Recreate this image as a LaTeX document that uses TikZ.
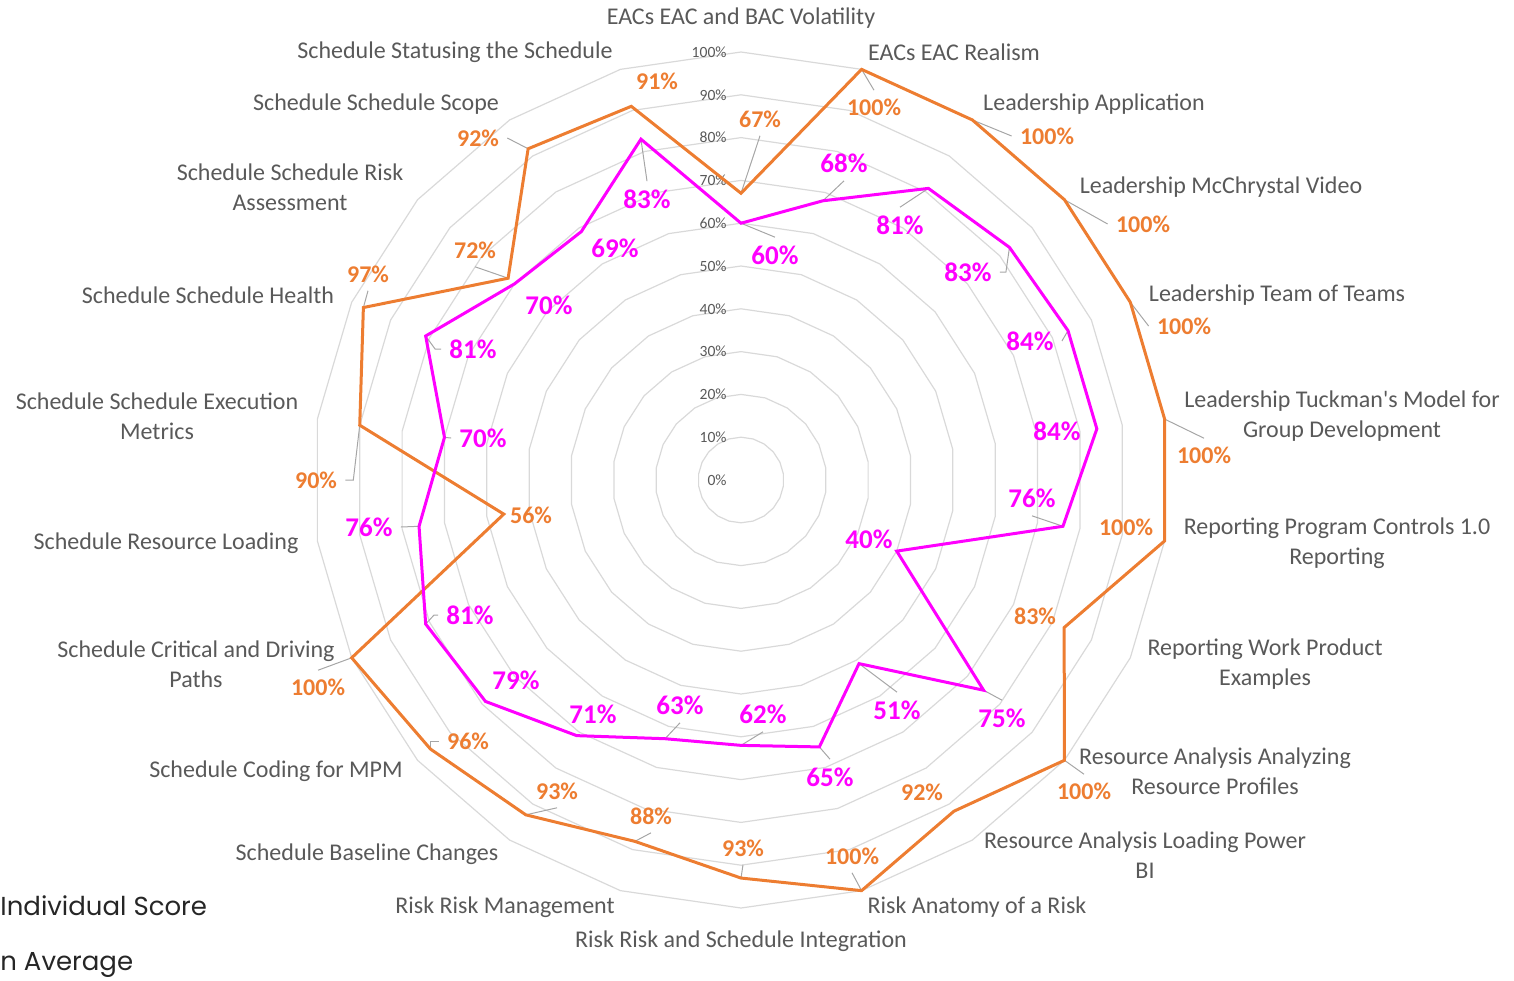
\documentclass[tikz,border=0pt]{standalone}
\usepackage{fontspec}
\setmainfont{Carlito}
\newfontfamily\legendfont{Poppins}
\usepackage{tikz}
\usetikzlibrary{calc,positioning}
\definecolor{scoreorange}{HTML}{ED7D31}
\definecolor{avgmagenta}{HTML}{FF00FF}
\definecolor{labelgray}{HTML}{595959}
\definecolor{gridgray}{HTML}{D9D9D9}
\definecolor{leadergray}{HTML}{A6A6A6}

\begin{document}
\begin{tikzpicture}[x=0.5pt,y=-0.5pt,
  ring/.style={draw=gridgray,line width=0.6pt},
  tick/.style={text=labelgray,font=\fontsize{7.8}{9}\selectfont,anchor=east,inner sep=0pt},
  category/.style={text=labelgray,font=\fontsize{12}{15}\selectfont,align=center,inner sep=0pt},
  scoreline/.style={draw=scoreorange,line width=1.5pt},
  avgline/.style={draw=avgmagenta,line width=1.5pt},
  scorelabel/.style={text=scoreorange,font=\bfseries\fontsize{12}{14}\selectfont,inner sep=4pt},
  avglabel/.style={text=avgmagenta,font=\bfseries\fontsize{13.5}{16}\selectfont,inner sep=4pt},
  leader/.style={draw=leadergray,line width=0.5pt},
  legendtext/.style={font=\legendfont\fontsize{13}{15}\selectfont,text=black!85,anchor=west,inner sep=0pt}]

\useasboundingbox (0,0) rectangle (1514,980);
\coordinate (ctr) at (741,480);

\foreach \r in {1,...,10}
  \draw[ring] ($(ctr)+(-90:{\r*42.8})$) \foreach \k in {1,...,21}{ -- ($(ctr)+({-90+\k*360/22}:{\r*42.8})$)} -- cycle;

\foreach \p [count=\r from 0] in {0,10,...,100}
  \node[tick] (tick\p) at ($(ctr)+(-14,{-\r*42.8})$) {\p\%};

\node[category] (cat0) at (741,18) {EACs EAC and BAC Volatility};
\node[category] (cat1) at (954,52) {EACs EAC Realism};
\node[category] (cat2) at (1094,104) {Leadership Application};
\node[category] (cat3) at (1221,187) {Leadership McChrystal Video};
\node[category] (cat4) at (1277,295) {Leadership Team of Teams};
\node[category] (cat5) at (1342,416) {Leadership Tuckman\textquotesingle s Model for\\Group Development};
\node[category] (cat6) at (1337,543) {Reporting Program Controls 1.0\\Reporting};
\node[category] (cat7) at (1265,664) {Reporting Work Product\\Examples};
\node[category] (cat8) at (1215,771) {Resource Analysis Analyzing\\Resource Profiles};
\node[category] (cat9) at (1145,855) {Resource Analysis Loading Power\\BI};
\node[category] (cat10) at (977,907) {Risk Anatomy of a Risk};
\node[category] (cat11) at (741,941) {Risk Risk and Schedule Integration};
\node[category] (cat12) at (505,907) {Risk Risk Management};
\node[category] (cat13) at (367,854) {Schedule Baseline Changes};
\node[category] (cat14) at (276,771) {Schedule Coding for MPM};
\node[category] (cat15) at (196,664) {Schedule Critical and Driving\\Paths};
\node[category] (cat16) at (166,543) {Schedule Resource Loading};
\node[category] (cat17) at (157,416) {Schedule Schedule Execution\\Metrics};
\node[category] (cat18) at (208,295) {Schedule Schedule Health};
\node[category] (cat19) at (290,187) {Schedule Schedule Risk\\Assessment};
\node[category] (cat20) at (376,104) {Schedule Schedule Scope};
\node[category] (cat21) at (455,52) {Schedule Statusing the Schedule};

\foreach \v/\x/\y [count=\k from 0] in {67/760/119,100/874/107,100/1047/136,100/1143/224,
    100/1184/326,100/1204/455,100/1126/527,83/1035/616,100/1084/791,92/922/792,100/852/856,
    93/743/848,88/651/816,93/557/791,96/468/741,100/318/687,56/531/515,90/316/480,
    97/368/274,72/475/250,92/478/138,91/657/81}{
  \coordinate (o\k) at ($(ctr)+({-90+\k*360/22}:{\v*4.28})$);
  \node[scorelabel] (so\k) at (\x,\y) {\v\%};
}

\foreach \v/\x/\y [count=\k from 0] in {60/775/255,68/844/163,81/900/225,83/968/272,
    84/1030/341,84/1057/431,76/1032/498,40/869/539,75/1002/718,51/897/710,65/830/777,
    62/763/714,63/680/705,71/593/714,79/516/680,81/470/615,76/369/527,70/483/438,
    81/473/349,70/549/305,69/615/248,83/647/199}{
  \coordinate (m\k) at ($(ctr)+({-90+\k*360/22}:{\v*4.28})$);
  \node[avglabel] (av\k) at (\x,\y) {\v\%};
}

\foreach \a/\b in {o0/so0.south,o1/so1.north,o2/so2.west,o3/so3.west,o4/so4.west,
    o5/so5.north,o8/so8.north,o10/so10.south,o11/so11.south,o12/so12.south,
    o13/so13.south,o15/so15.north,o18/so18.south,o19/so19.south,o20/so20.east,
    m0/av0.north,m1/av1.south,m2/av2.north,m4/av4.east,m6/av6.south,m8/av8.north,
    m9/av9.north,m10/av10.north,m11/av11.south,m12/av12.south,m16/av16.east,
    m17/av17.west,m21/av21.north}
  \draw[leader] (\a) -- (\b);
\draw[leader] (o14) |- (so14.west);
\draw[leader] (o17) -- ([xshift=4pt]so17.east) -- (so17.east);
\draw[leader] (m3) -- ([xshift=3pt]av3.east) -- (av3.east);
\draw[leader] (m15) -- ([xshift=-2pt]av15.west) -- (av15.west);
\draw[leader] (m18) -- ([xshift=-3pt]av18.west) -- (av18.west);

\draw[scoreline] (o0) \foreach \k in {1,...,21}{ -- (o\k)} -- cycle;
\draw[avgline] (m0) \foreach \k in {1,...,21}{ -- (m\k)} -- cycle;

\node[legendtext] (leg1) at (0,906) {Individual Score};
\node[legendtext] (leg2) at (0,965) {n Average};
\end{tikzpicture}
\end{document}
